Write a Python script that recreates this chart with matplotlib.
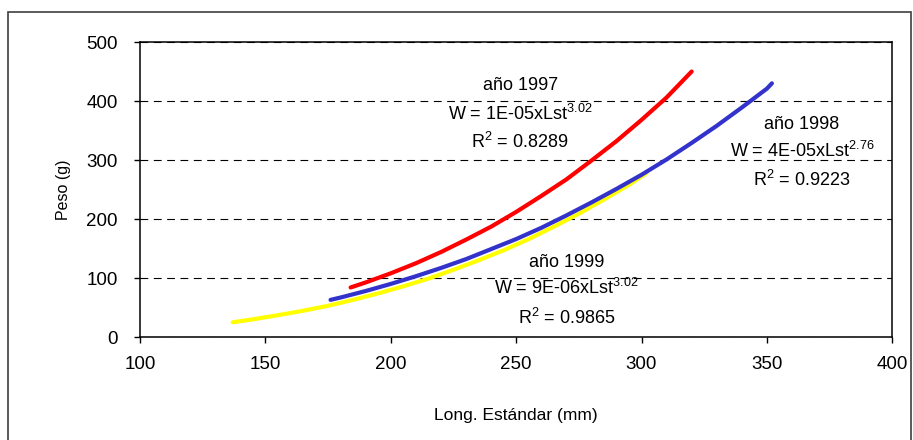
import matplotlib
matplotlib.use("Agg")
import matplotlib.pyplot as plt
from matplotlib.patches import Rectangle

plt.rcParams['font.family'] = ['Liberation Sans', 'DejaVu Sans']
plt.rcParams['mathtext.fontset'] = 'custom'
plt.rcParams['mathtext.rm'] = 'Liberation Sans'
plt.rcParams['mathtext.default'] = 'regular'

# curves (Long. estandar mm -> peso g)
len_1997 = [184, 190, 200, 210, 220, 230, 240, 250, 260, 270, 280, 290, 300, 310, 320]
peso_1997 = [84, 92.5, 108, 125, 144, 165, 187, 212, 239, 267, 299, 332, 368, 406, 450]

len_1998 = [176, 180, 190, 200, 210, 220, 230, 240, 250, 260, 270, 280, 290, 300, 310, 320, 330, 340, 350, 352]
peso_1998 = [63, 67, 78, 90, 103, 117, 132, 149, 166, 185, 206, 228, 251, 275, 301, 329, 358, 389, 421, 430]

len_1999 = [137, 145, 155, 165, 175, 185, 195, 205, 215, 225, 235, 245, 255, 265, 275, 285, 295, 302]
peso_1999 = [25, 30, 37, 44.5, 53, 63, 74, 86, 99, 114, 130, 147, 166, 187, 209, 233, 258, 278]

x_ticks = [100, 150, 200, 250, 300, 350, 400]
y_ticks = [0, 100, 200, 300, 400, 500]

fig = plt.figure(figsize=(9.13, 4.40), dpi=100)
ax = fig.add_axes([0.1533, 0.234, 0.824, 0.6705])

ax.plot(len_1999, peso_1999, color='#FFFF00', lw=3, solid_capstyle='round', zorder=3)
ax.plot(len_1998, peso_1998, color='#3333CC', lw=3, solid_capstyle='round', zorder=4)
ax.plot(len_1997, peso_1997, color='#FF0000', lw=3, solid_capstyle='round', zorder=5)

ax.set_xlim(100, 400)
ax.set_ylim(0, 500)
ax.set_xticks(x_ticks)
ax.set_yticks(y_ticks)
ax.yaxis.grid(True, linestyle=(0, (7, 5)), lw=0.8, color='black')
ax.set_axisbelow(True)
for s in ax.spines.values():
    s.set_linewidth(1.1)
    s.set_color('black')
ax.tick_params(direction='out', length=4, width=1, labelsize=13.5)
ax.tick_params(axis='y', pad=12)
ax.tick_params(axis='x', pad=10)

ax.set_xlabel('Long. Estándar (mm)', fontsize=12.5, labelpad=25)
ax.set_ylabel('Peso (g)', fontsize=11.5, labelpad=11)

fs = 13
ax.text(251.6, 427, 'año 1997', ha='center', va='center', fontsize=fs)
ax.text(251.6, 378, r'W = 1E-05xLst$^{3.02}$', ha='center', va='center', fontsize=fs)
ax.text(251.6, 330, r'R$^{2}$ = 0.8289', ha='center', va='center', fontsize=fs)

ax.text(364, 361, 'año 1998', ha='center', va='center', fontsize=fs)
ax.text(364, 315, r'W = 4E-05xLst$^{2.76}$', ha='center', va='center', fontsize=fs)
ax.text(364, 266, r'R$^{2}$ = 0.9223', ha='center', va='center', fontsize=fs)

ax.text(270, 127, 'año 1999', ha='center', va='center', fontsize=fs)
ax.text(270, 83, r'W = 9E-06xLst$^{3.02}$', ha='center', va='center', fontsize=fs)
ax.text(270, 32, r'R$^{2}$ = 0.9865', ha='center', va='center', fontsize=fs)

# outer chart-area frame
fig.patches.append(Rectangle((8 / 913, -0.05), 903 / 913, 1.05 - 12 / 440,
                             transform=fig.transFigure, fill=False,
                             edgecolor='#404040', lw=1.2, clip_on=False))

fig.savefig('out.png', dpi=100)
